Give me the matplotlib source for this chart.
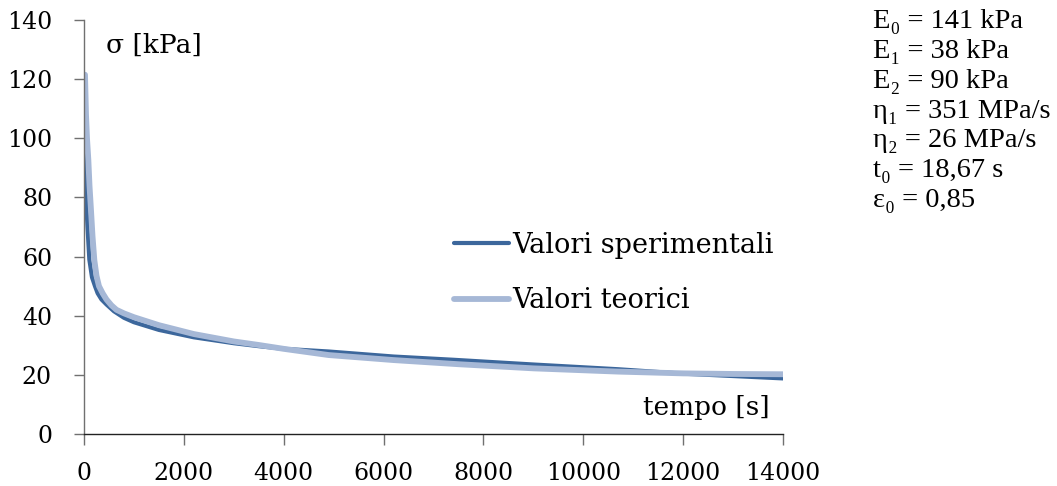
import matplotlib.pyplot as plt

# Experimental stress relaxation (dark curve)
t_exp = [0, 15, 40, 70, 107, 160, 220, 273, 350, 450, 600, 800, 1000, 1500,
         2200, 3000, 3500, 4000, 4900, 6200, 7400, 9000, 10700, 12000, 13000, 14000]
s_exp = [100, 90, 80, 70, 59, 53, 50, 47.6, 45.5, 43.8, 41.5, 39.3, 37.8, 35.2,
         32.7, 30.7, 29.7, 28.8, 27.9, 26.2, 25.1, 23.5, 21.9, 20.4, 19.6, 18.8]

# Model prediction (light curve)
t_teo = [20, 40, 60, 87, 110, 140, 170, 207, 250, 300, 373, 450, 550, 650, 800,
         1000, 1500, 2200, 3000, 3500, 4000, 4900, 6200, 7500, 9000, 10700,
         12000, 13000, 14000]
s_teo = [121.5, 108, 100, 92.7, 84, 75.7, 67, 58.8, 53.5, 50, 47.6, 45.5, 43.5,
         42, 40.8, 39.5, 36.8, 33.8, 31.3, 30.1, 28.8, 26.7, 25, 23.6, 22.2,
         21.1, 20.5, 20.3, 20.2]

params = ["E₀ = 141 kPa", "E₁ = 38 kPa", "E₂ = 90 kPa", "η₁ = 351 MPa/s",
          "η₂ = 26 MPa/s", "t₀ = 18,67 s", "ε₀ = 0,85"]

dark = '#3C679C'
light = '#A6B8D6'

plt.rcParams['font.family'] = ['DejaVu Serif']
plt.rcParams['font.size'] = 17

fig = plt.figure(figsize=(10.57, 4.86), dpi=100)
ax = fig.add_axes([84/1057, 1 - 434/486, 699/1057, 414/486])

ax.plot(t_exp, s_exp, color=dark, lw=3.0, label='Valori sperimentali', solid_capstyle='round')
ax.plot(t_teo, s_teo, color=light, lw=4.2, label='Valori teorici', solid_capstyle='round')

ax.set_xlim(0, 14000)
ax.set_ylim(0, 140)
ax.set_xticks(range(0, 14001, 2000))
ax.set_yticks(range(0, 141, 20))
ax.spines['top'].set_visible(False)
ax.spines['right'].set_visible(False)
ax.spines['left'].set_color('#707070')
ax.spines['bottom'].set_color('#222222')
for s in ('left', 'bottom'):
    ax.spines[s].set_linewidth(1.0)
ax.tick_params(axis='y', direction='out', length=7, width=1.0, color='#707070', labelsize=17, pad=16)
ax.tick_params(axis='x', direction='out', length=8, width=1.0, color='#707070', labelsize=17, pad=12)

ax.text(0.031, 0.94, 'σ [kPa]', transform=ax.transAxes, ha='left', va='center', fontsize=19)
ax.text(0.981, 0.063, 'tempo [s]', transform=ax.transAxes, ha='right', va='center', fontsize=19)

leg = ax.legend(loc='upper left', bbox_to_anchor=(0.53, 0.4883), frameon=False,
                borderpad=0, borderaxespad=0, handlelength=2.0, handletextpad=0.15,
                labelspacing=1.05, fontsize=19.5)

for i, p in enumerate(params):
    fig.text(873/1057, 1 - (22 + i*29.7)/486, p, ha='left', va='center', fontsize=20.5,
             family=['Liberation Serif', 'DejaVu Serif'])

plt.savefig('out.png', dpi=100)
